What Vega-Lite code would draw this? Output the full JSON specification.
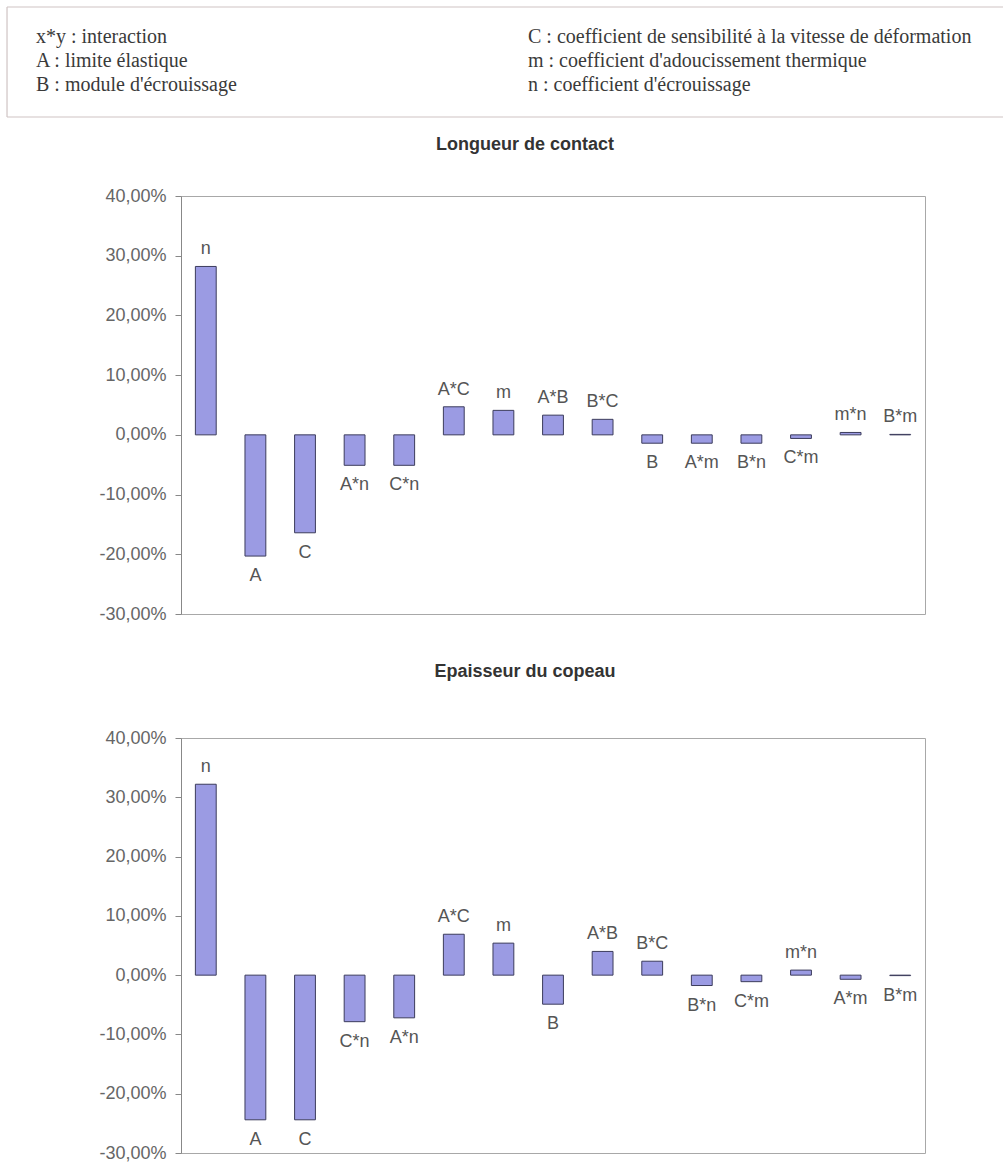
{
  "$schema": "https://vega.github.io/schema/vega-lite/v6.json",
  "padding": {"left": 6, "top": 6, "right": 0, "bottom": 0},
  "background": "white",
  "config": {
    "view": {"stroke": null},
    "font": "Liberation Sans"
  },
  "spacing": 17,
  "vconcat": [
    {
      "width": 744,
      "height": 110,
      "layer": [
        {
          "data": {"values": [{"cadre": "haut"}]},
          "mark": {"type": "rule", "stroke": "#cfc3c3", "strokeWidth": 1.2},
          "encoding": {
            "x": {"datum": -0.0589, "type": "quantitative", "scale": {"domain": [0, 1], "range": [-145, 347]}, "axis": null},
            "x2": {"datum": 1.9675},
            "y": {"datum": -1.5, "type": "quantitative", "scale": {"domain": [0, 2], "range": [36, 84]}, "axis": null}
          }
        },
        {
          "data": {"values": [{"cadre": "bas"}]},
          "mark": {"type": "rule", "stroke": "#cfc3c3", "strokeWidth": 1.2},
          "encoding": {
            "x": {"datum": -0.0589, "type": "quantitative", "scale": {"domain": [0, 1], "range": [-145, 347]}, "axis": null},
            "x2": {"datum": 1.9675},
            "y": {"datum": 3.0833, "type": "quantitative", "scale": {"domain": [0, 2], "range": [36, 84]}, "axis": null}
          }
        },
        {
          "data": {"values": [{"cadre": "gauche"}]},
          "mark": {"type": "rule", "stroke": "#cfc3c3", "strokeWidth": 1.2},
          "encoding": {
            "x": {"datum": -0.0589, "type": "quantitative", "scale": {"domain": [0, 1], "range": [-145, 347]}, "axis": null},
            "y": {"datum": -1.5, "type": "quantitative", "scale": {"domain": [0, 2], "range": [36, 84]}, "axis": null},
            "y2": {"datum": 3.0833}
          }
        },
        {
          "data": {"values": [
            {"col": 0, "row": 0, "label": "x*y : interaction"},
            {"col": 0, "row": 1, "label": "A : limite élastique"},
            {"col": 0, "row": 2, "label": "B : module d'écrouissage"},
            {"col": 1, "row": 0, "label": "C : coefficient de sensibilité à la vitesse de déformation"},
            {"col": 1, "row": 1, "label": "m : coefficient d'adoucissement thermique"},
            {"col": 1, "row": 2, "label": "n : coefficient d'écrouissage"}
          ]},
          "mark": {"type": "text", "font": "Liberation Serif", "fontSize": 20, "color": "#3a3a3a", "align": "left", "baseline": "alphabetic"},
          "encoding": {
            "x": {"field": "col", "type": "quantitative", "scale": {"domain": [0, 1], "range": [-145, 347]}, "axis": null},
            "y": {"field": "row", "type": "quantitative", "scale": {"domain": [0, 2], "range": [36, 84]}, "axis": null},
            "text": {"field": "label"}
          }
        }
      ]
    },
    {
      "spacing": 38,
      "vconcat": [
        {
          "width": 744,
          "height": 418,
          "view": {"stroke": "#a8a8a8", "strokeWidth": 1},
          "title": {"text": "Longueur de contact", "fontSize": 18, "fontWeight": "bold", "color": "#333333", "font": "Liberation Sans", "frame": "group", "anchor": "middle", "offset": 33, "dx": -28},
          "data": {"values": [
            {"p": "n", "v": 0.282},
            {"p": "A", "v": -0.203},
            {"p": "C", "v": -0.164},
            {"p": "A*n", "v": -0.051},
            {"p": "C*n", "v": -0.051},
            {"p": "A*C", "v": 0.047},
            {"p": "m", "v": 0.041},
            {"p": "A*B", "v": 0.033},
            {"p": "B*C", "v": 0.026},
            {"p": "B", "v": -0.014},
            {"p": "A*m", "v": -0.014},
            {"p": "B*n", "v": -0.014},
            {"p": "C*m", "v": -0.006},
            {"p": "m*n", "v": 0.004},
            {"p": "B*m", "v": 0.0008}
          ]},
          "encoding": {
            "x": {"field": "p", "type": "nominal", "sort": null, "axis": null, "scale": {"paddingInner": 0.58, "paddingOuter": 0.29}},
            "y": {"field": "v", "type": "quantitative", "scale": {"domain": [-0.3, 0.4], "nice": false, "zero": false},
              "axis": {"labelExpr": "replace(replace(format(datum.value, '.2%'), '.', ','), '\u2212', '-')", "values": [-0.3, -0.2, -0.1, 0, 0.1, 0.2, 0.3, 0.4], "title": null, "grid": false, "domainColor": "#888888", "tickColor": "#888888", "tickSize": 6, "labelFontSize": 18, "labelColor": "#666666", "labelPadding": 9, "labelFont": "Liberation Sans"}}
          },
          "layer": [
            {"mark": {"type": "bar", "fill": "#9b9be3", "stroke": "#3c3c5c", "strokeWidth": 1}},
            {"transform": [{"filter": "datum.v >= 0"}], "mark": {"type": "text", "fontSize": 18, "color": "#555555", "baseline": "alphabetic", "dy": -12}, "encoding": {"text": {"field": "p"}}},
            {"transform": [{"filter": "datum.v < 0"}], "mark": {"type": "text", "fontSize": 18, "color": "#555555", "baseline": "alphabetic", "dy": 25}, "encoding": {"text": {"field": "p"}}}
          ]
        },
        {
          "width": 744,
          "height": 415,
          "view": {"stroke": "#a8a8a8", "strokeWidth": 1},
          "title": {"text": "Epaisseur du copeau", "fontSize": 18, "fontWeight": "bold", "color": "#333333", "font": "Liberation Sans", "frame": "group", "anchor": "middle", "offset": 48, "dx": -28},
          "data": {"values": [
            {"p": "n", "v": 0.322},
            {"p": "A", "v": -0.244},
            {"p": "C", "v": -0.244},
            {"p": "C*n", "v": -0.0785},
            {"p": "A*n", "v": -0.072},
            {"p": "A*C", "v": 0.069},
            {"p": "m", "v": 0.054},
            {"p": "B", "v": -0.049},
            {"p": "A*B", "v": 0.040},
            {"p": "B*C", "v": 0.0235},
            {"p": "B*n", "v": -0.0175},
            {"p": "C*m", "v": -0.011},
            {"p": "m*n", "v": 0.0085},
            {"p": "A*m", "v": -0.007},
            {"p": "B*m", "v": -0.0008}
          ]},
          "encoding": {
            "x": {"field": "p", "type": "nominal", "sort": null, "axis": null, "scale": {"paddingInner": 0.58, "paddingOuter": 0.29}},
            "y": {"field": "v", "type": "quantitative", "scale": {"domain": [-0.3, 0.4], "nice": false, "zero": false},
              "axis": {"labelExpr": "replace(replace(format(datum.value, '.2%'), '.', ','), '\u2212', '-')", "values": [-0.3, -0.2, -0.1, 0, 0.1, 0.2, 0.3, 0.4], "title": null, "grid": false, "domainColor": "#888888", "tickColor": "#888888", "tickSize": 6, "labelFontSize": 18, "labelColor": "#666666", "labelPadding": 9, "labelFont": "Liberation Sans"}}
          },
          "layer": [
            {"mark": {"type": "bar", "fill": "#9b9be3", "stroke": "#3c3c5c", "strokeWidth": 1}},
            {"transform": [{"filter": "datum.v >= 0"}], "mark": {"type": "text", "fontSize": 18, "color": "#555555", "baseline": "alphabetic", "dy": -12}, "encoding": {"text": {"field": "p"}}},
            {"transform": [{"filter": "datum.v < 0"}], "mark": {"type": "text", "fontSize": 18, "color": "#555555", "baseline": "alphabetic", "dy": 25}, "encoding": {"text": {"field": "p"}}}
          ]
        }
      ]
    }
  ]
}
